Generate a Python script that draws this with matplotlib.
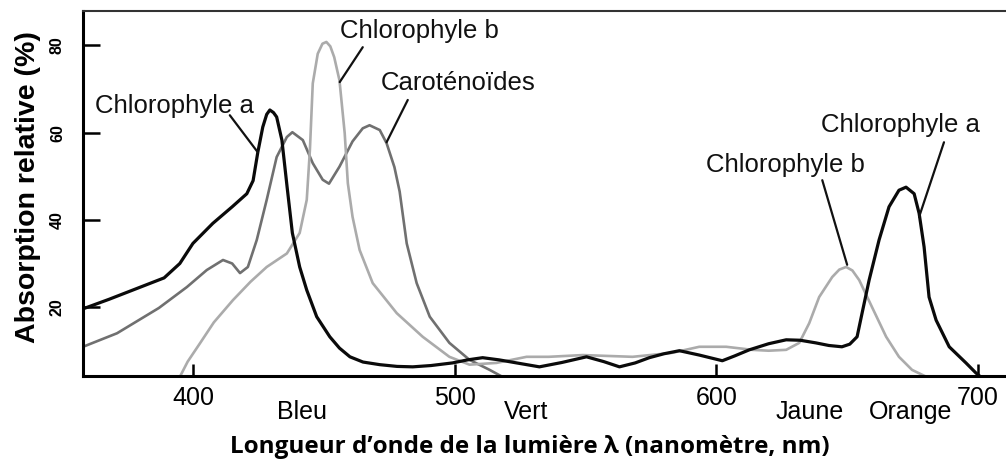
import matplotlib
matplotlib.use("Agg")
import matplotlib.pyplot as plt

# absorption spectra (nm, relative absorption %)
chl_a_nm = [358, 368, 377, 389, 395, 400, 407.6, 415, 420.6, 423, 424.8, 426.7, 428.2, 429.4, 430.8,
            432, 434, 436, 438, 440.8, 443.5, 447.3, 452.3, 456, 460, 465, 471.4, 478, 484, 491,
            499.2, 505, 510.7, 517, 523.7, 532.4, 541, 550.4, 557, 563, 569, 574.4, 580, 585.9,
            593.5, 602.3, 607, 612.6, 620, 626.7, 632, 638, 643, 648, 651, 653.8, 655.7, 658.4,
            662.2, 666, 669.8, 672.5, 675.6, 677.5, 679.4, 681.3, 684, 689, 695.4, 699.2, 702]
chl_a_abs = [19.6, 21.8, 23.9, 26.7, 30, 34.6, 39.2, 43, 46, 49, 55.5, 61.3, 64.2, 65.2, 64.6,
             63.6, 58.3, 47.5, 37, 29.2, 23.9, 17.8, 13.2, 10.6, 8.6, 7.4, 6.8, 6.4, 6.3, 6.6,
             7.2, 7.9, 8.4, 7.9, 7.2, 6.3, 7.3, 8.6, 7.5, 6.3, 7.2, 8.4, 9.3, 10,
             9, 7.7, 8.8, 10.2, 11.6, 12.5, 12.4, 11.8, 11.2, 10.9, 11.5, 13.2, 18.6, 26.2,
             35.4, 43, 46.8, 47.5, 46, 41.5, 33.8, 22.3, 17, 10.9, 7.2, 4.9, 3.5]

chl_b_nm = [393, 395, 398, 402.7, 408, 415.3, 422, 428.2, 435.9, 440.8, 443.5, 444.7, 445.8, 447.7,
            449.5, 451, 452.5, 454, 456, 458, 459.2, 461, 463.7, 468.7, 477.9, 487.8, 498, 505.7,
            516, 527.5, 536, 549, 568, 583, 593.5, 603.8, 613.7, 620, 626.7, 631.7, 635.5, 639.3,
            644.3, 647, 649.6, 652, 654.6, 659.5, 664.9, 669.8, 674.8, 678.6, 682]
chl_b_abs = [2.5, 4, 7.5, 11.7, 16.5, 21.6, 25.8, 29.2, 32.3, 37, 44.6, 56, 71.3, 78.1,
             80.4, 80.8, 79.8, 77.3, 72, 59.9, 48.4, 40.7, 33.1, 25.5, 18.6, 13.2, 8.6, 6.8,
             7.2, 8.6, 8.6, 9, 8.6, 9.5, 10.9, 10.9, 10.2, 10, 10.2, 11.8, 16.3, 22.3,
             26.9, 28.6, 29.2, 28.4, 26.2, 20, 13.2, 8.6, 5.6, 4.5, 3.5]

carot_nm = [358, 371, 387, 397.7, 405.3, 411.5, 415, 418, 421, 424.4, 428.2, 432, 435.9, 438, 442,
            445.8, 449.6, 452, 456, 461, 464.9, 467.5, 471.4, 474, 477, 479, 481.7, 485.5, 490.5,
            498, 505.7, 513.4, 518.3, 523]
carot_abs = [10.9, 14, 19.8, 24.6, 28.5, 30.8, 30, 27.8, 29.2, 35.4, 44.6, 54.4, 59, 60.1, 58.3,
             53, 49.2, 48.3, 52.2, 58, 61, 61.7, 60.6, 57.6, 52.1, 46.5, 34.6, 25.5, 17.8,
             11.8, 7.9, 5.6, 4, 3]

x_ticks = [400, 500, 600, 700]
y_ticks = [20, 40, 60, 80]
color_names = ["Bleu", "Vert", "Jaune", "Orange"]
color_pos = [441.6, 527.5, 635.5, 674.4]

plt.rcParams['font.family'] = ['Liberation Sans', 'DejaVu Sans']

fig = plt.figure(figsize=(10.06, 4.65), dpi=100)
ax = fig.add_axes([83 / 1006, 89 / 465, 923 / 1006, 365 / 465])

ax.plot(carot_nm, carot_abs, color='#707070', lw=1.9, solid_joinstyle='round')
ax.plot(chl_b_nm, chl_b_abs, color='#ababab', lw=1.9, solid_joinstyle='round')
ax.plot(chl_a_nm, chl_a_abs, color='#0a0a0a', lw=2.3, solid_joinstyle='round')

ax.set_xlim(358, 710.7)
ax.set_ylim(4.2, 87.9)

ax.spines['right'].set_visible(False)
ax.spines['left'].set_linewidth(2.2)
ax.spines['bottom'].set_linewidth(2.2)
ax.spines['top'].set_linewidth(1.5)
ax.spines['top'].set_color('#333333')

ax.set_xticks(x_ticks)
ax.set_xticklabels([str(v) for v in x_ticks], fontsize=18)
ax.tick_params(axis='x', direction='in', length=9, width=1.8, pad=7)
ax.set_yticks(y_ticks)
ax.set_yticklabels([str(v) for v in y_ticks], fontsize=11.5, fontweight='bold', rotation=90, va='center')
ax.tick_params(axis='y', direction='in', length=12, width=1.8, pad=13)

# colour names under the axis
for name, pos in zip(color_names, color_pos):
    ax.text(pos, -0.099, name, transform=ax.get_xaxis_transform(), ha='center', va='center', fontsize=18)

# curve labels with leader lines
txt = dict(fontsize=18.5, color='#111111', ha='left', va='baseline')
ax.text(362.6, 64.4, "Chlorophyle a", **txt)
ax.text(456.1, 81.7, "Chlorophyle b", **txt)
ax.text(471.8, 69.8, "Caroténoïdes", **txt)
ax.text(596.2, 51.0, "Chlorophyle b", **txt)
ax.text(640.1, 60.1, "Chlorophyle a", **txt)

leaders = [((414.1, 64.0), (424.8, 55.5)),
           ((464.9, 79.6), (456.1, 71.6)),
           ((482.1, 67.5), (474.0, 57.8)),
           ((640.5, 49.1), (650.0, 29.7)),
           ((687.0, 57.8), (677.5, 40.7))]
for start, end in leaders:
    ax.annotate('', xy=end, xytext=start,
                arrowprops=dict(arrowstyle='-', color='#111111', lw=1.6, shrinkA=0, shrinkB=0))

fig.text(28 / 1006, 1 - 187 / 465, "Absorption relative (%)", rotation=90, ha='center', va='center',
         fontsize=20.5, fontweight='bold')
fig.text(530 / 1006, 1 - 447 / 465, "Longueur d\u2019onde de la lumière λ (nanomètre, nm)",
         ha='center', va='center', fontsize=17.5, fontweight='bold', family=['Open Sans', 'DejaVu Sans'])

fig.savefig("out.png", dpi=100, facecolor='white')
